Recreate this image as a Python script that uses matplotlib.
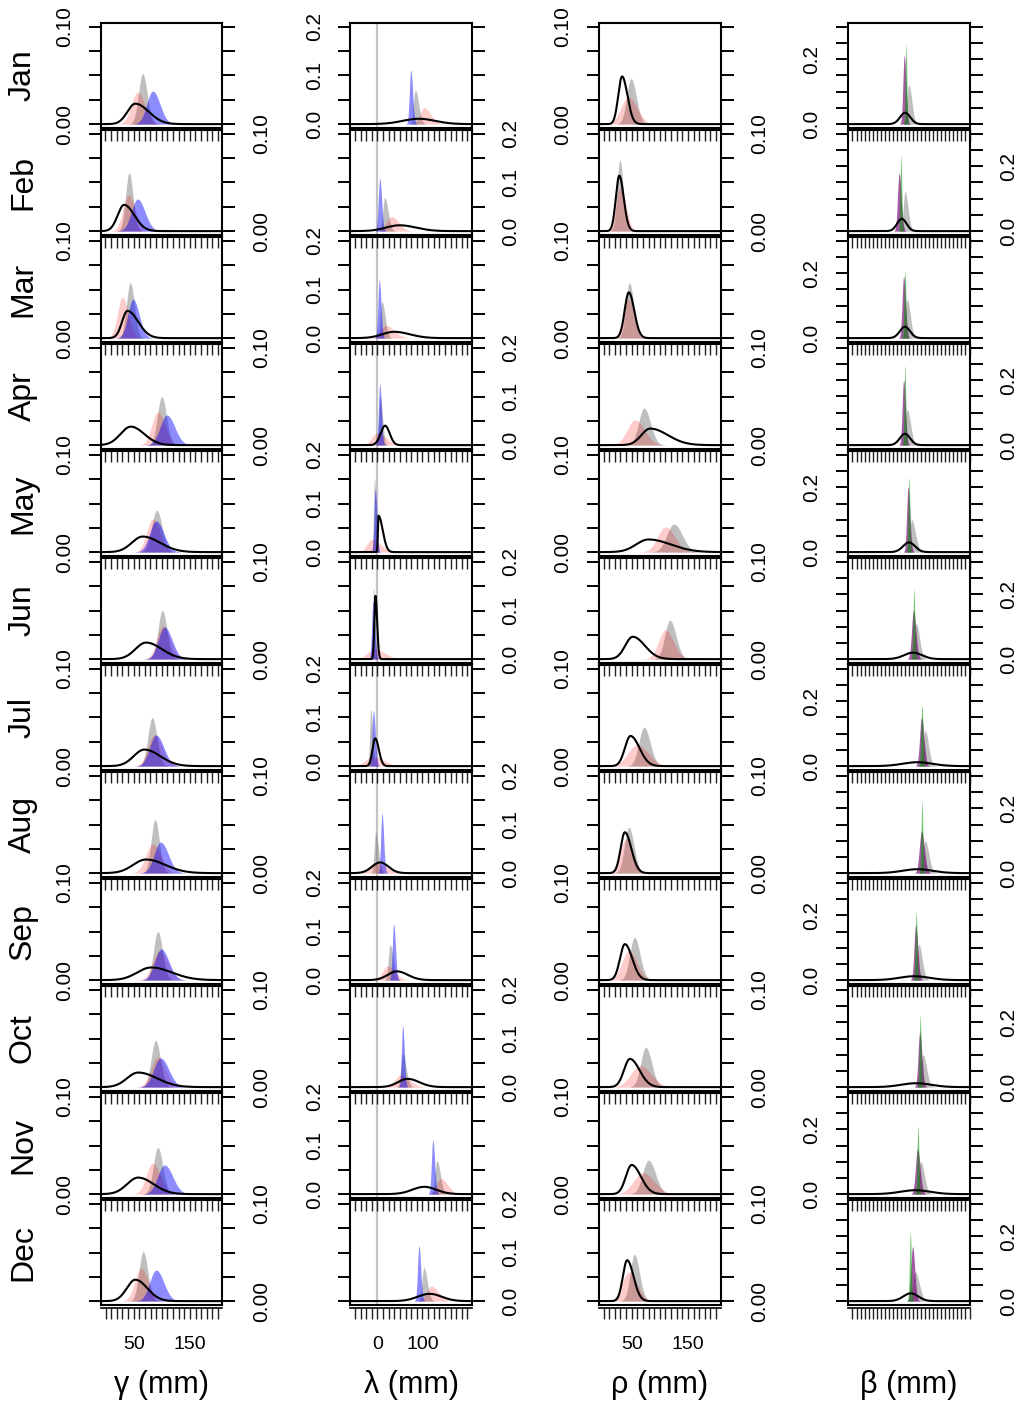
import numpy as np
import matplotlib
matplotlib.use("Agg")
import matplotlib.pyplot as plt
from matplotlib.transforms import blended_transform_factory

plt.rcParams['font.family'] = ['Liberation Sans', 'DejaVu Sans']

months = ['Jan', 'Feb', 'Mar', 'Apr', 'May', 'Jun', 'Jul', 'Aug', 'Sep', 'Oct', 'Nov', 'Dec']

# ---- gamma (mm): mode and peak height of each density ----
gamma_gray_mode = [66, 42, 44, 100, 91, 101, 83, 88, 93, 89, 93, 67]
gamma_gray_peak = [0.052, 0.060, 0.057, 0.050, 0.043, 0.050, 0.050, 0.055, 0.050, 0.048, 0.048, 0.051]
gamma_red_mode = [57, 41, 30, 93, 84, 102, 87, 84, 96, 93, 84, 63]
gamma_red_peak = [0.033, 0.037, 0.042, 0.034, 0.034, 0.034, 0.032, 0.030, 0.030, 0.031, 0.032, 0.034]
gamma_blue_mode = [84, 57, 49, 109, 90, 105, 90, 98, 99, 98, 105, 90]
gamma_blue_peak = [0.034, 0.033, 0.040, 0.031, 0.032, 0.033, 0.032, 0.032, 0.032, 0.030, 0.030, 0.032]
gamma_black_mode = [53, 33, 39, 45, 66, 72, 69, 72, 81, 58, 58, 53]
gamma_black_peak = [0.021, 0.027, 0.028, 0.019, 0.016, 0.017, 0.017, 0.014, 0.013, 0.015, 0.017, 0.022]
gamma_black_skew = [1.7, 1.6, 2.0, 1.3, 1.6, 1.5, 1.5, 1.5, 1.5, 1.7, 1.4, 1.4]

# ---- lambda (mm) ----
lambda_gray_mode = [84, 16, 10, 6, -7, -9, -15, -4, 28, 56, 132, 103]
lambda_gray_peak = [0.070, 0.069, 0.075, 0.100, 0.152, 0.146, 0.117, 0.085, 0.073, 0.068, 0.069, 0.069]
lambda_red_mode = [104, 31, 19, 0, -11, -7, -10, -4, 22, 52, 141, 120]
lambda_red_peak = [0.034, 0.030, 0.026, 0.025, 0.027, 0.021, 0.020, 0.021, 0.029, 0.025, 0.032, 0.031]
lambda_blue_mode = [74, 5, 4, 5, -5, -10, -9, 10, 36, 56, 123, 92]
lambda_blue_peak = [0.111, 0.108, 0.120, 0.126, 0.130, 0.120, 0.114, 0.123, 0.115, 0.127, 0.111, 0.114]
lambda_black_mode = [92, 49, 37, 17, 2, -4.5, -5, 6, 43, 67, 104, 116]
lambda_black_peak = [0.011, 0.012, 0.013, 0.040, 0.075, 0.130, 0.057, 0.022, 0.018, 0.017, 0.015, 0.015]
lambda_black_skew = [1.0, 1.2, 1.3, 1.0, 8.0, 1.5, 1.3, 1.0, 1.2, 1.2, 1.0, 1.0]

# ---- rho (mm) ----
rho_gray_mode = [49, 29, 46, 72, 125, 118, 72, 45, 55, 75, 80, 55]
rho_gray_peak = [0.047, 0.073, 0.057, 0.038, 0.029, 0.040, 0.040, 0.047, 0.044, 0.041, 0.035, 0.048]
rho_red_mode = [44, 30, 44, 56, 110, 110, 60, 40, 45, 65, 70, 45]
rho_red_peak = [0.028, 0.045, 0.040, 0.026, 0.026, 0.030, 0.022, 0.035, 0.030, 0.022, 0.022, 0.030]
rho_black_mode = [33, 28, 45, 83, 80, 52, 48, 38, 38, 47, 50, 42]
rho_black_peak = [0.049, 0.057, 0.047, 0.017, 0.013, 0.023, 0.031, 0.042, 0.037, 0.029, 0.030, 0.042]
rho_black_skew = [1.4, 1.3, 1.3, 2.0, 1.8, 1.6, 1.6, 1.5, 1.5, 1.6, 1.6, 1.5]

# ---- beta (mm) ----
beta_green_mode = [69, 58, 67, 67, 76, 87, 105, 105, 92, 101, 96, 79]
beta_green_peak = [0.245, 0.232, 0.206, 0.245, 0.230, 0.215, 0.188, 0.220, 0.210, 0.220, 0.210, 0.212]
beta_purple_mode = [65, 54, 64, 64, 74, 86, 104, 104, 91, 100, 95, 84]
beta_purple_peak = [0.212, 0.178, 0.190, 0.200, 0.200, 0.150, 0.150, 0.130, 0.170, 0.170, 0.140, 0.168]
beta_gray_mode = [75, 67, 72, 72, 82, 92, 112, 112, 98, 107, 102, 90]
beta_gray_peak = [0.121, 0.122, 0.120, 0.110, 0.100, 0.110, 0.110, 0.100, 0.110, 0.100, 0.100, 0.090]
beta_black_mode = [67, 60, 67, 67, 76, 85, 95, 95, 88, 92, 90, 80]
beta_black_peak = [0.035, 0.038, 0.035, 0.035, 0.030, 0.020, 0.012, 0.012, 0.012, 0.012, 0.012, 0.024]

col_titles = ['\u03b3 (mm)', '\u03bb (mm)', '\u03c1 (mm)', '\u03b2 (mm)']
col_xlim = [(0, 200), (-50, 200), (0, 200), (-50, 200)]
col_ymax = [0.10, 0.20, 0.10, 0.30]
col_ystep = [0.025, 0.05, 0.025, 0.05]
col_ylab = [[0.0, 0.1], [0.0, 0.1, 0.2], [0.0, 0.1], [0.0, 0.2]]
col_yfmt = ['{:.2f}', '{:.1f}', '{:.2f}', '{:.1f}']
col_xlab = [[50, 150], [0, 100], [50, 150], [0, 100]]
col_nrug = [21, 21, 21, 30]

GRAY = (0.5, 0.5, 0.5, 0.5)
RED = (1.0, 0.0, 0.0, 0.2)
BLUE = (0.0, 0.0, 1.0, 0.45)
PURPLE = (0.45, 0.0, 0.45, 0.65)
GREEN = (0.0, 0.6, 0.0, 0.55)


def dens(x, mode, peak, skew=1.0, wf=1.0):
    total = wf * 2.0 / (peak * np.sqrt(2 * np.pi))
    sl = total / (1 + skew)
    sr = total * skew / (1 + skew)
    s = np.where(x < mode, sl, sr)
    return peak * np.exp(-0.5 * ((x - mode) / s) ** 2)


W, H = 1020, 1407
fig = plt.figure(figsize=(W / 100, H / 100), dpi=100)

lefts = [101, 350.5, 599, 848]
bw, bh = 121.5, 105
pitch = 107
top0 = 23

# (modes, peaks, skew, width factor, colour)
fills = {
    0: [(gamma_gray_mode, gamma_gray_peak, 1.1, 1.0, GRAY),
        (gamma_red_mode, gamma_red_peak, 1.2, 1.0, RED),
        (gamma_blue_mode, gamma_blue_peak, 1.2, 1.0, BLUE)],
    1: [(lambda_gray_mode, lambda_gray_peak, 1.8, 1.0, GRAY),
        (lambda_red_mode, lambda_red_peak, 1.5, 1.0, RED),
        (lambda_blue_mode, lambda_blue_peak, 1.3, 1.0, BLUE)],
    2: [(rho_gray_mode, rho_gray_peak, 1.2, 1.0, GRAY),
        (rho_red_mode, rho_red_peak, 1.2, 1.0, RED)],
    3: [(beta_gray_mode, beta_gray_peak, 1.8, 1.6, GRAY),
        (beta_purple_mode, beta_purple_peak, 1.3, 1.8, PURPLE),
        (beta_green_mode, beta_green_peak, 1.0, 1.1, GREEN)],
}
lines = {
    0: (gamma_black_mode, gamma_black_peak, gamma_black_skew),
    1: (lambda_black_mode, lambda_black_peak, lambda_black_skew),
    2: (rho_black_mode, rho_black_peak, rho_black_skew),
    3: (beta_black_mode, beta_black_peak, [1.0] * 12),
}

for c in range(4):
    x0, x1 = col_xlim[c]
    pad = 0.04 * (x1 - x0)
    xl = (x0 - pad, x1 + pad)
    ymax = col_ymax[c]
    yl = (-0.04 * ymax, 1.04 * ymax)
    xg = np.linspace(xl[0], xl[1], 6000)
    rug = np.linspace(x0, x1 + (0 if col_nrug[c] == 21 else 11), col_nrug[c])
    yt = np.arange(0, ymax + 1e-9, col_ystep[c])
    for i in range(12):
        top = top0 + pitch * i
        ax = fig.add_axes([lefts[c] / W, 1 - (top + bh) / H, bw / W, bh / H])
        ax.set_xlim(xl)
        ax.set_ylim(yl)
        for s in ax.spines.values():
            s.set_linewidth(1.5)
        if c == 1:
            ax.axvline(0, color='#c4c4c4', lw=1.6, zorder=0.5)
        for modes, peaks, sk, wf, col in fills[c]:
            yv = dens(xg, modes[i], peaks[i], sk, wf)
            m = yv > peaks[i] * 0.004
            ax.fill_between(xg, 0, yv, where=m, color=col, lw=0, zorder=1)
        bm, bp, bs = lines[c]
        ax.plot(xg, dens(xg, bm[i], bp[i], bs[i]), color='black', lw=1.5, zorder=3)
        # y ticks both sides
        ax.set_yticks(yt)
        ax.tick_params(axis='y', which='both', left=True, right=True, direction='out',
                       length=9, width=1.4, labelleft=False, labelright=False)
        trans = blended_transform_factory(ax.transAxes, ax.transData)
        left_side = (i % 2 == 0)
        for v in col_ylab[c]:
            ax.annotate(col_yfmt[c].format(v), xy=(0 if left_side else 1, v), xycoords=trans,
                        xytext=(-36 if left_side else 39, 0), textcoords='offset pixels',
                        rotation=90, ha='center', va='center', fontsize=15,
                        annotation_clip=False)
        # x rug ticks
        if i == 0:
            ax.set_xticks([])
        else:
            ax.set_xticks(rug)
            ax.tick_params(axis='x', which='both', top=True, bottom=False, labeltop=False,
                           labelbottom=False, direction='in', length=8, width=1.0,
                           color='#222222')
        if i == 11:
            sec = ax.secondary_xaxis(-3.0 / bh)
            labs = [(str(int(round(t))) if any(abs(t - L) < 1e-6 for L in col_xlab[c]) else '')
                    for t in rug]
            sec.set_xticks(rug)
            sec.set_xticklabels(labs)
            sec.tick_params(direction='out', length=8, width=1.0, color='#222222',
                            labelsize=14, pad=12)
            sec.spines['bottom'].set_linewidth(1.2)
            fig.text((lefts[c] + bw / 2) / W, 1 - 1385 / H, col_titles[c], fontsize=22,
                     ha='center', va='center')

for i, mname in enumerate(months):
    yc = top0 + pitch * i + bh / 2
    fig.text(23 / W, 1 - yc / H, mname, fontsize=23, rotation=90, ha='center', va='center')

fig.savefig('out.png', dpi=100)
